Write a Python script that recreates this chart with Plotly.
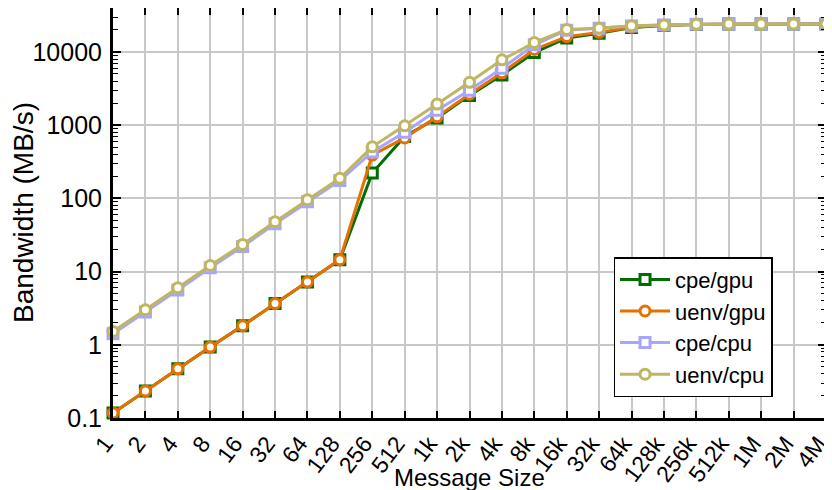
import plotly.graph_objects as go

sizes = ["1", "2", "4", "8", "16", "32", "64", "128", "256", "512",
         "1k", "2k", "4k", "8k", "16k", "32k", "64k", "128k", "256k", "512k",
         "1M", "2M", "4M"]

cpe_gpu = [0.117, 0.234, 0.47, 0.93, 1.82, 3.65, 7.2, 14.5, 222, 700,
           1250, 2550, 4850, 9800, 15500, 18000, 21500, 23000, 23700, 24000,
           24000, 24100, 24100]
uenv_gpu = [0.117, 0.234, 0.47, 0.93, 1.82, 3.65, 7.2, 14.5, 390, 670,
            1300, 2650, 5200, 10800, 16200, 18500, 21800, 23200, 23800, 24000,
            24000, 24100, 24100]
cpe_cpu = [1.42, 2.8, 5.6, 11.3, 22, 45, 90, 175, 430, 800,
           1600, 3000, 6000, 12500, 19800, 21000, 22600, 23400, 23800, 24000,
           24000, 24100, 24100]
uenv_cpu = [1.52, 3.0, 6.0, 12.1, 23.5, 48, 96, 188, 505, 980,
            1940, 3850, 7800, 13400, 20300, 21100, 22700, 23400, 23800, 24000,
            24000, 24100, 24100]

y_tickvals = [0.1, 1, 10, 100, 1000, 10000]
y_ticktext = ["0.1", "1", "10", "100", "1000", "10000"]

series = [
    ("cpe/gpu", cpe_gpu, "rgb(0,110,0)", "square"),
    ("uenv/gpu", uenv_gpu, "rgb(230,112,0)", "circle"),
    ("cpe/cpu", cpe_cpu, "rgb(166,166,255)", "square"),
    ("uenv/cpu", uenv_cpu, "rgb(192,182,96)", "circle"),
]

xpos = list(range(len(sizes)))

fig = go.Figure()
for name, vals, col, sym in series:
    fig.add_trace(go.Scatter(
        x=xpos, y=vals, name=name, mode="lines+markers",
        line=dict(color=col, width=3),
        marker=dict(symbol=sym, size=10, color="white",
                    line=dict(color=col, width=3)),
        cliponaxis=False,
    ))

FAM = "Liberation Sans, Arial, sans-serif"
font = dict(family=FAM, size=24, color="black")

# page body has an 8px default margin: size the figure to fit the window
fig.update_layout(
    width=824, height=482,
    margin=dict(l=105, r=6, t=0, b=72, pad=0, autoexpand=False),
    plot_bgcolor="white", paper_bgcolor="white",
    font=font,
    showlegend=True,
    legend=dict(x=0.925, y=0.051, xanchor="right", yanchor="bottom",
                bordercolor="black", borderwidth=1.5, bgcolor="white",
                font=dict(family=FAM, size=22, color="black"),
                tracegroupgap=0, itemwidth=50),
    annotations=[
        dict(text="Message Size", xref="paper", yref="paper",
             x=0.5, y=0, yshift=-59, xanchor="center", yanchor="middle",
             showarrow=False, font=dict(family=FAM, size=24, color="black")),
        dict(text="Bandwidth (MB/s)", xref="paper", yref="paper",
             x=0, y=0.5, xshift=-90, xanchor="center", yanchor="middle",
             textangle=-90, showarrow=False,
             font=dict(family=FAM, size=28, color="black")),
    ],
)

fig.update_xaxes(
    range=[-0.0001, len(sizes) - 1 + 0.0001],
    tickvals=xpos, ticktext=sizes, tickangle=-53,
    tickfont=dict(family=FAM, size=23, color="black"),
    ticklabeloverflow="allow", ticklabelshift=-8,
    ticks="inside", ticklen=7, tickwidth=1.5, tickcolor="black",
    showgrid=True, gridcolor="rgb(200,200,200)", gridwidth=1.5,
    showline=True, linecolor="black", linewidth=3, mirror="allticks",
    zeroline=False, automargin=False,
)

fig.update_yaxes(
    type="log", range=[-1, 4.6],
    tickvals=y_tickvals, ticktext=y_ticktext,
    tickfont=dict(family=FAM, size=25, color="black"),
    ticklabelstandoff=3, ticklabeloverflow="allow",
    ticks="inside", ticklen=8, tickwidth=1.5, tickcolor="black",
    showgrid=True, gridcolor="rgb(200,200,200)", gridwidth=1.5,
    showline=True, linecolor="black", linewidth=3, mirror="allticks",
    zeroline=False, automargin=False,
    minor=dict(ticks="inside", ticklen=5, tickwidth=1, tickcolor="black",
               dtick="D1", showgrid=False),
)

fig.write_html("out.html")
